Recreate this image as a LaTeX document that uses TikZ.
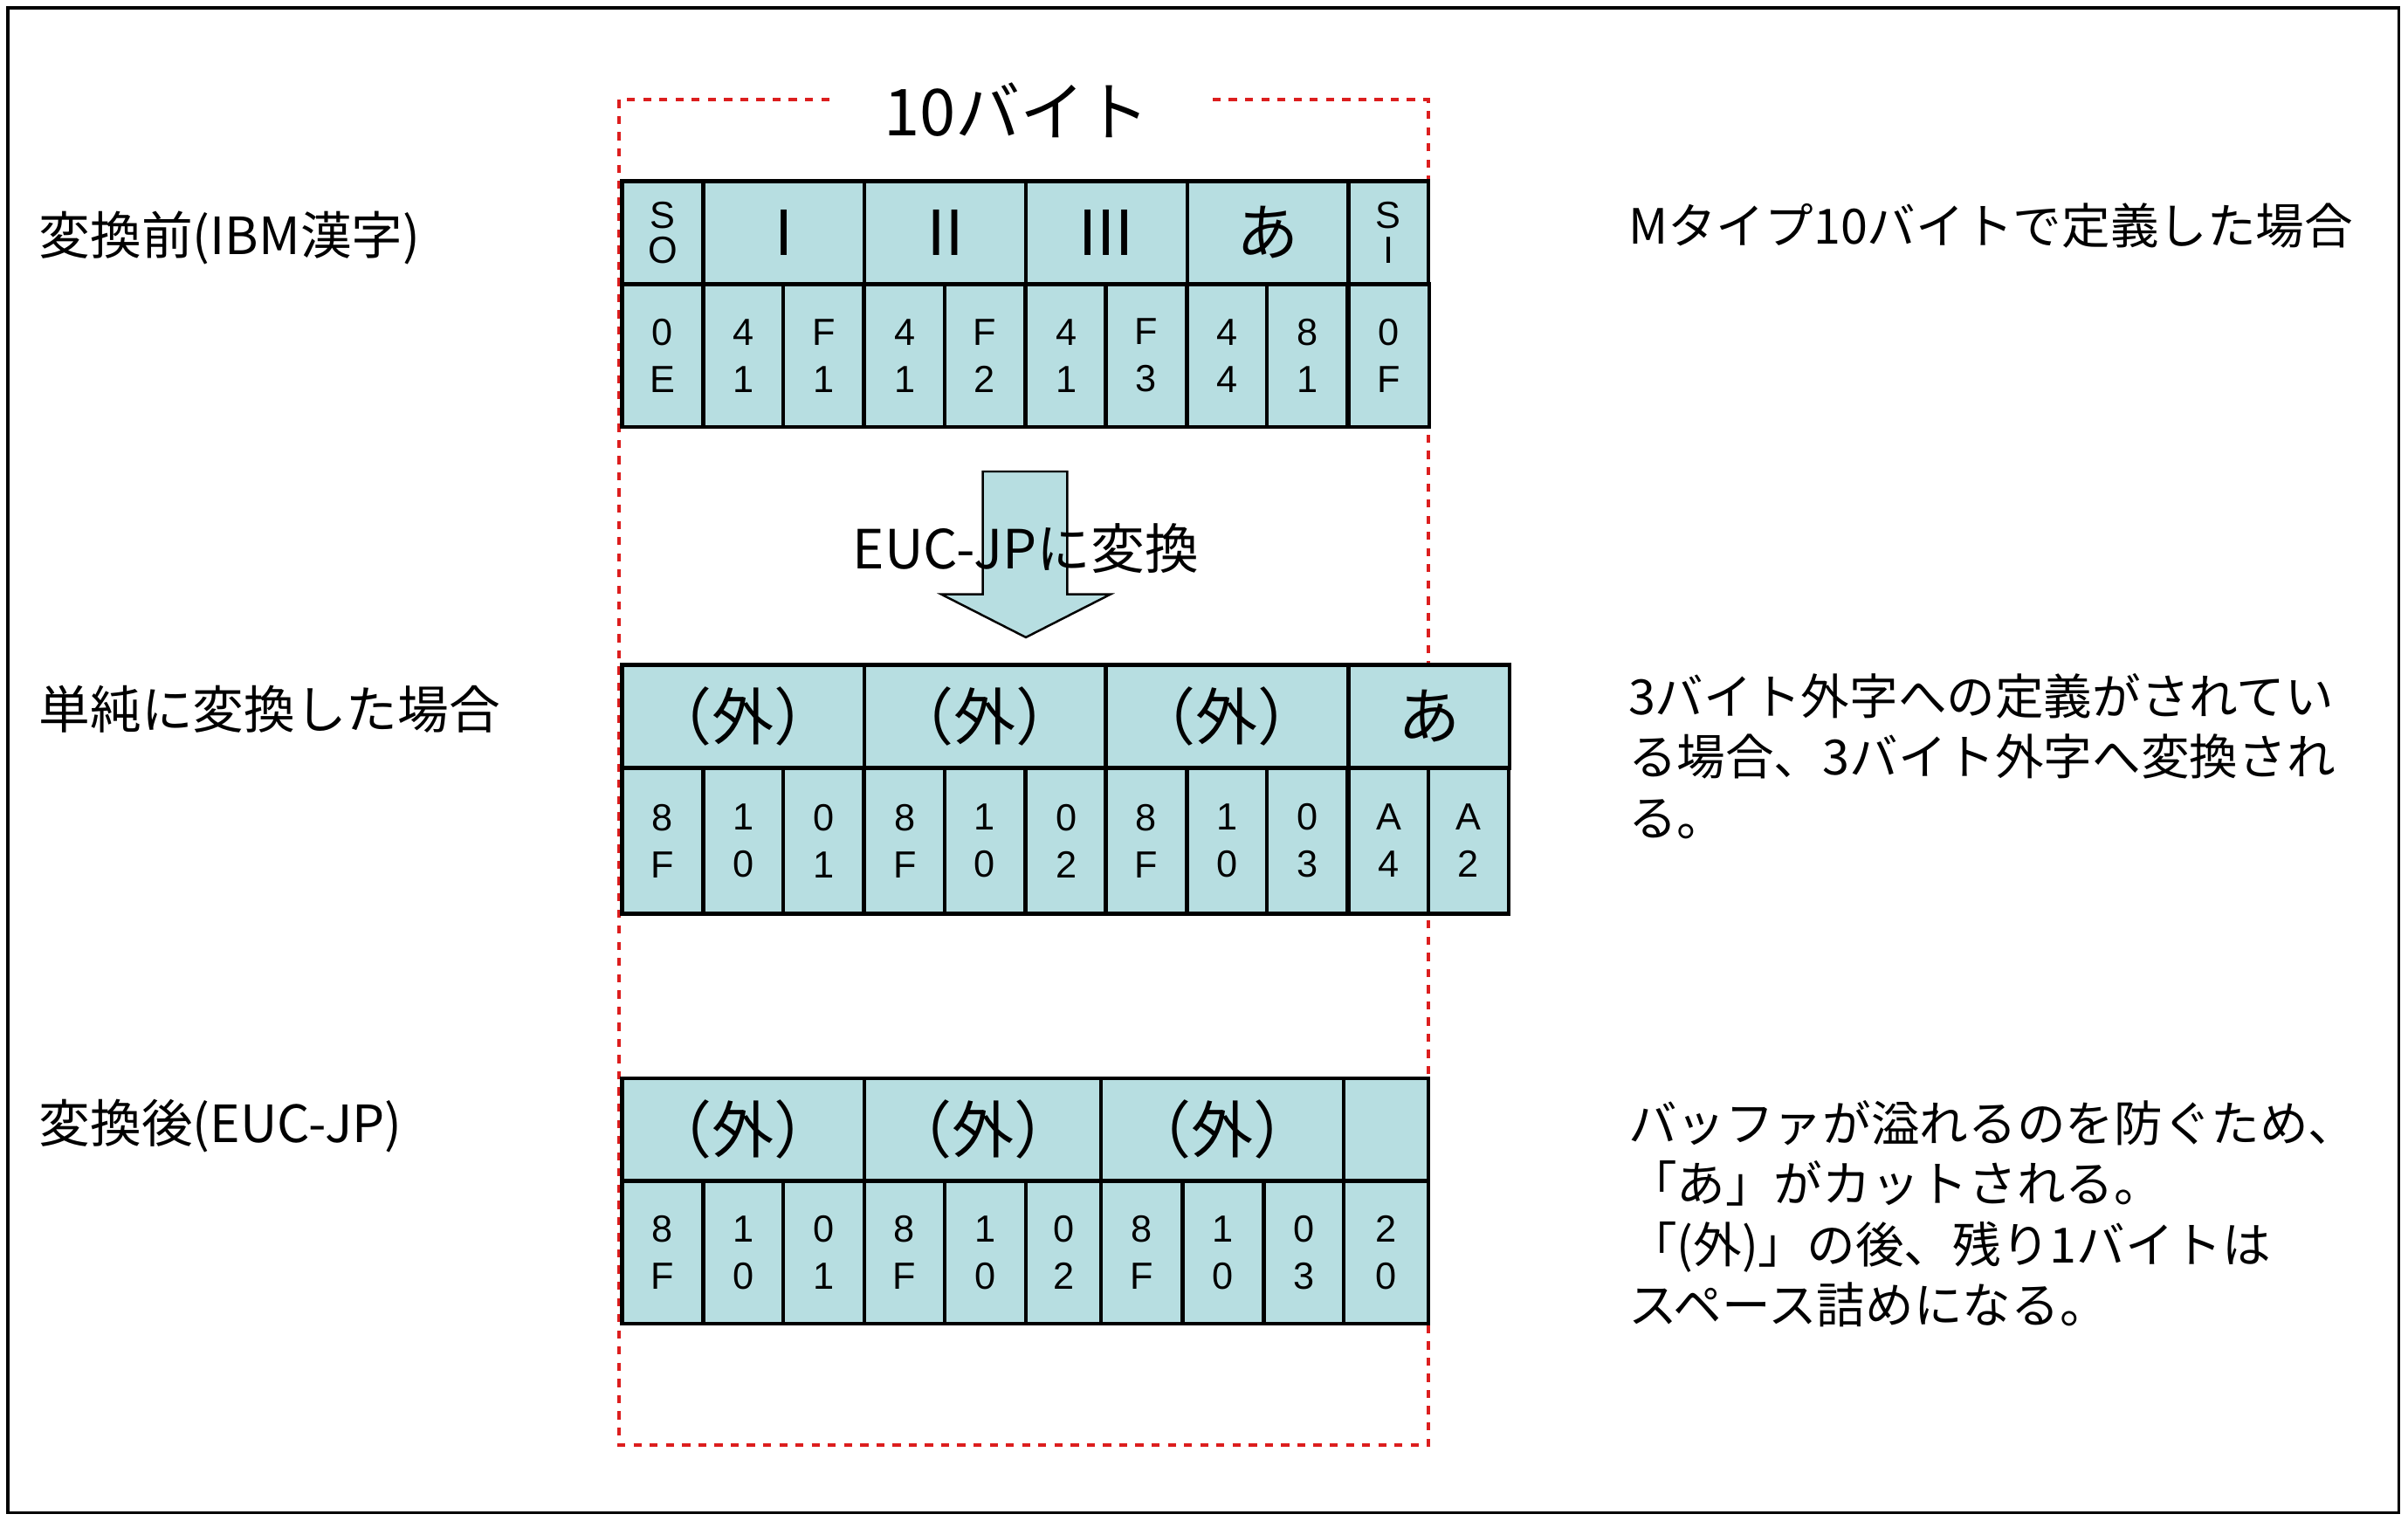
\documentclass[tikz,border=0pt]{standalone}
\usepackage{fontspec}
\setmainfont{Noto Sans CJK JP}
\newfontfamily\hexf{Liberation Sans}
\usetikzlibrary{calc}
\definecolor{cellc}{RGB}{183,222,225}
\definecolor{redd}{RGB}{220,30,30}
\tikzset{cell/.style={draw=black,line width=1.4pt,fill=cellc},
 lbl/.style={anchor=west,font=\fontsize{19pt}{22pt}\selectfont,inner sep=0},
 note/.style={anchor=north west,font=\fontsize{18pt}{22.5pt}\selectfont,inner sep=0,align=left},
 hdr/.style={font=\fontsize{23pt}{26pt}\selectfont},
 hx/.style={font=\hexf\fontsize{14pt}{17.5pt}\selectfont,align=center}}
\begin{document}
\begin{tikzpicture}[x=0.02cm,y=-0.02cm]
\useasboundingbox (0,0) rectangle (1568,990);
\draw[line width=1.2pt] (5,5) rectangle (1562,985);
% red dashed frame
\draw[redd,dashed,line width=1.2pt] (540,65) -- (403,65) -- (403,941) -- (930,941) -- (930,65) -- (785,65);
\node[font=\fontsize{24pt}{28pt}\selectfont] (t10) at (662,72) {10バイト};
% row 1
\foreach \a/\b/\t [count=\i] in {405/458/{\hexf\fontsize{14pt}{17pt}\selectfont\shortstack{S\\O}},458/563/Ⅰ,563/668/Ⅱ,668/773/Ⅲ,773/878/あ,878/930/{\hexf\fontsize{14pt}{17pt}\selectfont\shortstack{S\\I}}}
  \node[cell,hdr,minimum width={(\b-\a)*0.02cm},minimum height=1.34cm,inner sep=0] (h1\i) at ({(\a+\b)/2},151.5) {\t};
\foreach \a/\t [count=\i] in {405/0\\E,458/4\\1,510/F\\1,563/4\\1,615/F\\2,668/4\\1,720/F\\3,773/4\\4,825/8\\1,878/0\\F}
  \node[cell,hx,minimum width=1.05cm,minimum height=1.86cm,inner sep=0] (b1\i) at ({\a+26.25},231.5) {\t};
% arrow
\draw[fill=cellc,line width=0.8pt] (640,307) -- (695,307) -- (695,387) -- (723,387) -- (668,415) -- (613,387) -- (640,387) -- cycle;
\node[font=\fontsize{20pt}{24pt}\selectfont,inner sep=0] (conv) at (668,357) {EUC-JPに変換};
% row 2
\foreach \a/\b/\t [count=\i] in {405/563/（外）,563/720/（外）,720/878/（外）,878/983/あ}
  \node[cell,hdr,minimum width={(\b-\a)*0.02cm},minimum height=1.34cm,inner sep=0] (h2\i) at ({(\a+\b)/2},466.5) {\t};
\foreach \a/\t [count=\i] in {405/8\\F,458/1\\0,510/0\\1,563/8\\F,615/1\\0,668/0\\2,720/8\\F,773/1\\0,825/0\\3,878/A\\4,930/A\\2}
  \node[cell,hx,minimum width=1.05cm,minimum height=1.9cm,inner sep=0] (b2\i) at ({\a+26.25},547.5) {\t};
% row 3
\foreach \a/\b/\t [count=\i] in {405/563/（外）,563/717/（外）,717/875/（外）,875/930/{}}
  \node[cell,hdr,minimum width={(\b-\a)*0.02cm},minimum height=1.34cm,inner sep=0] (h3\i) at ({(\a+\b)/2},735.5) {\t};
\foreach \a/\b/\t [count=\i] in {405/458/8\\F,458/510/1\\0,510/563/0\\1,563/615/8\\F,615/668/1\\0,668/717/0\\2,717/770/8\\F,770/823/1\\0,823/875/0\\3,875/930/2\\0}
  \node[cell,hx,minimum width={(\b-\a)*0.02cm},minimum height=1.86cm,inner sep=0] (b3\i) at ({(\a+\b)/2},815.5) {\t};
% left labels
\node[lbl] (l1) at (25,155) {変換前(IBM漢字)};
\node[lbl] (l2) at (25,462) {単純に変換した場合};
\node[lbl] (l3) at (25,733) {変換後(EUC-JP)};
% right notes
\node[note] (r1) at (1060,132) {Mタイプ10バイトで定義した場合};
\node[note] (r2) at (1060,438) {3バイト外字への定義がされてい\\る場合、3バイト外字へ変換され\\る。};
\node[note] (r3) at (1060,716) {バッファが溢れるのを防ぐため、\\「あ」がカットされる。\\「(外)」の後、残り1バイトは\\スペース詰めになる。};
\end{tikzpicture}
\end{document}
